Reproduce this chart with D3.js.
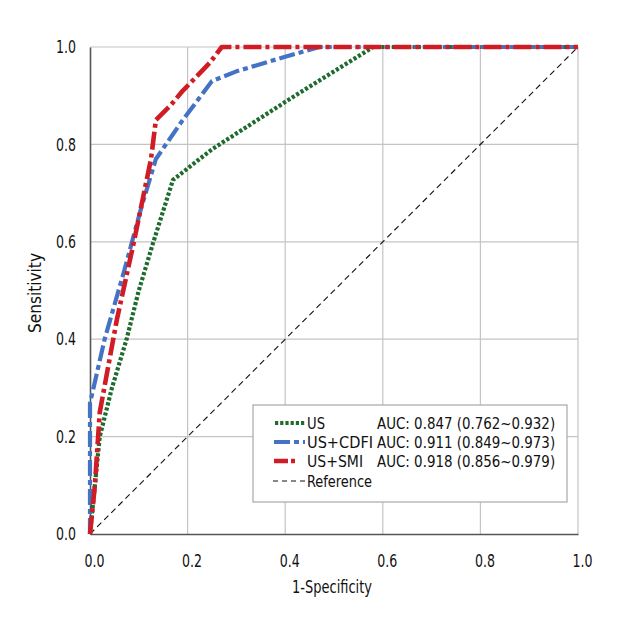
<!DOCTYPE html>
<html>
<head>
<meta charset="utf-8">
<script src="https://cdn.jsdelivr.net/npm/d3@7"></script>
<style>
  body { margin: 0; background: #fff; }
  svg text { font-family: "DejaVu Sans Condensed", "Liberation Sans Narrow", sans-serif; fill: #111; }
</style>
</head>
<body>
<svg width="620" height="640"></svg>
<script>
let width = 620, height = 640;

// ROC curve points
let usFpr   = [0, 0.01, 0.02, 0.045, 0.075, 0.10, 0.13, 0.17, 0.25, 0.42, 0.58, 1.0];
let usSens  = [0, 0.10, 0.20, 0.30, 0.40, 0.50, 0.60, 0.727, 0.79, 0.90, 1.0, 1.0];

let cdfiFpr  = [0, 0, 0.005, 0.03, 0.07, 0.105, 0.135, 0.19, 0.25, 0.30, 0.40, 0.47, 1.0];
let cdfiSens = [0, 0.27, 0.29, 0.40, 0.54, 0.67, 0.77, 0.85, 0.93, 0.95, 0.98, 1.0, 1.0];

let smiFpr  = [0, 0.01, 0.02, 0.055, 0.09, 0.125, 0.135, 0.165, 0.19, 0.245, 0.27, 1.0];
let smiSens = [0, 0.10, 0.25, 0.44, 0.60, 0.77, 0.85, 0.88, 0.91, 0.967, 1.0, 1.0];

let refFpr  = [0, 1];
let refSens = [0, 1];

let tickValues = [0, 0.2, 0.4, 0.6, 0.8, 1.0];

let legendNames = ["US", "US+CDFI", "US+SMI", "Reference"];
let legendAuc = ["AUC: 0.847 (0.762~0.932)", "AUC: 0.911 (0.849~0.973)", "AUC: 0.918 (0.856~0.979)", ""];
// measured text widths in the reference (condensed font)
let nameWidths = [18, 66, 56, 65];
let aucWidth = 178;

let svg = d3.select("svg")
    .attr("viewBox", "0 0 " + width + " " + height);

let x = d3.scaleLinear().domain([0, 1]).range([90, 578]);
let y = d3.scaleLinear().domain([0, 1]).range([534, 47]);

// squeeze a text horizontally to the width it has in the reference
function squeeze(node, target) {
    let len = node.getComputedTextLength();
    let k = target / len;
    let xa = +node.getAttribute("x") || 0;
    let prev = node.getAttribute("transform") || "";
    node.setAttribute("transform", prev + " translate(" + xa + ",0) scale(" + k + ",1) translate(" + (-xa) + ",0)");
}

// gridlines
svg.append("g")
    .selectAll("line")
    .data(tickValues.slice(1))
    .enter()
    .append("line")
    .attr("x1", d => x(d)).attr("x2", d => x(d))
    .attr("y1", y(0)).attr("y2", y(1))
    .attr("stroke", "#c4c4c4").attr("stroke-width", 1.2);

svg.append("g")
    .selectAll("line")
    .data(tickValues.slice(1))
    .enter()
    .append("line")
    .attr("x1", x(0)).attr("x2", x(1))
    .attr("y1", d => y(d)).attr("y2", d => y(d))
    .attr("stroke", "#c4c4c4").attr("stroke-width", 1.2);

// axes
let xAxis = svg.append("g")
    .attr("transform", "translate(0," + y(0) + ")")
    .call(d3.axisBottom(x).tickValues(tickValues).tickSize(0).tickPadding(20).tickFormat(d3.format(".1f")));
let yAxis = svg.append("g")
    .attr("transform", "translate(" + x(0) + ",0)")
    .call(d3.axisLeft(y).tickValues(tickValues).tickSize(0).tickPadding(14).tickFormat(d3.format(".1f")));

[xAxis, yAxis].forEach(a => {
    a.select(".domain").attr("stroke", "#555").attr("stroke-width", 1.6);
    a.selectAll("text")
        .attr("font-size", 18)
        .attr("fill", "#111");
});
xAxis.selectAll("text").attr("x", 4);
xAxis.selectAll("text").each(function () { squeeze(this, 20); });
yAxis.selectAll("text").each(function () { squeeze(this, 20); });

svg.append("text")
    .attr("x", 332).attr("y", 593)
    .attr("text-anchor", "middle")
    .attr("font-size", 18)
    .text("1-Specificity")
    .each(function () { squeeze(this, 80); });

svg.append("text")
    .attr("transform", "translate(41," + 293 + ") rotate(-90)")
    .attr("text-anchor", "middle")
    .attr("font-size", 18)
    .text("Sensitivity")
    .each(function () { squeeze(this, 80); });

// curves
let line = d3.line().x(d => x(d[0])).y(d => y(d[1]));

let series = [
    { fpr: refFpr, sens: refSens, color: "#111", w: 1.1, dash: "6,4" },
    { fpr: usFpr, sens: usSens, color: "#1e6b2e", w: 4.2, dash: "3.2,2" },
    { fpr: cdfiFpr, sens: cdfiSens, color: "#4472c4", w: 4.2, dash: "16,4,5,4" },
    { fpr: smiFpr, sens: smiSens, color: "#d01c24", w: 4.6, dash: "18,4,4,4" }
];

series.forEach(s => {
    svg.append("path")
        .datum(d3.zip(s.fpr, s.sens))
        .attr("d", line)
        .attr("fill", "none")
        .attr("stroke", s.color)
        .attr("stroke-width", s.w)
        .attr("stroke-dasharray", s.dash)
        .attr("stroke-linejoin", "round");
});

// legend
let lg = svg.append("g");
lg.append("rect")
    .attr("x", 253).attr("y", 405)
    .attr("width", 314).attr("height", 97)
    .attr("fill", "#fff")
    .attr("stroke", "#a8a8a8").attr("stroke-width", 1.2);

let swatches = [
    { x1: 275, x2: 305, color: "#1e6b2e", w: 4.2, dash: "3.2,2" },
    { x1: 274, x2: 305, color: "#4472c4", w: 4.2, dash: "16,4,5,4" },
    { x1: 274, x2: 298, color: "#d01c24", w: 4.6, dash: "14,3,4,20" },
    { x1: 273, x2: 305, color: "#111", w: 1.1, dash: "5,4" }
];
let rowY = [423, 442, 461, 481];

legendNames.forEach((name, i) => {
    let s = swatches[i];
    lg.append("line")
        .attr("x1", s.x1).attr("x2", s.x2)
        .attr("y1", rowY[i]).attr("y2", rowY[i])
        .attr("stroke", s.color)
        .attr("stroke-width", s.w)
        .attr("stroke-dasharray", s.dash);
    lg.append("text")
        .attr("x", 307).attr("y", rowY[i] + 6)
        .attr("font-size", 16.3)
        .text(name)
        .each(function () { squeeze(this, nameWidths[i]); });
    if (legendAuc[i]) {
        lg.append("text")
            .attr("x", 377).attr("y", rowY[i] + 6)
            .attr("font-size", 16.3)
            .text(legendAuc[i])
            .each(function () { squeeze(this, aucWidth); });
    }
});
</script>
</body>
</html>
